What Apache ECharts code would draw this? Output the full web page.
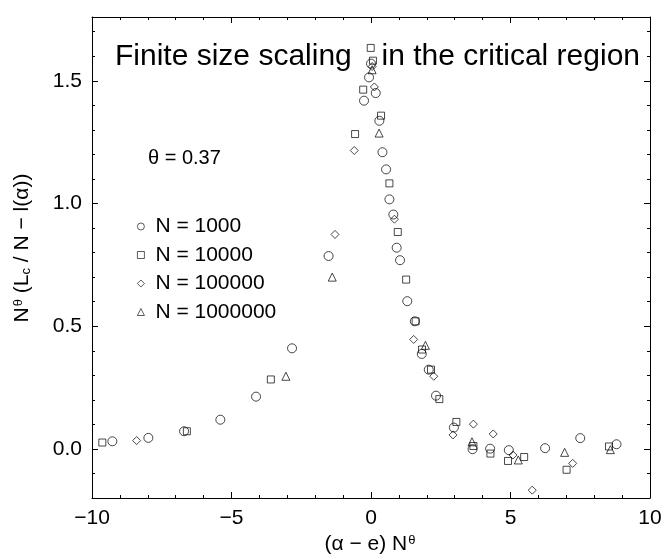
<!DOCTYPE html>
<html>
<head>
<meta charset="utf-8">
<script src="https://cdn.jsdelivr.net/npm/echarts@6/dist/echarts.min.js"></script>
<style>
html, body { margin: 0; padding: 0; background: #fff; }
#chart { width: 662px; height: 560px; }
</style>
</head>
<body>
<div id="chart"></div>
<script>
// data: [x, y] = [(alpha - e) N^theta, N^theta (Lc/N - l(alpha))]
var seriesNames = ['N = 1000', 'N = 10000', 'N = 100000', 'N = 1000000'];

var n1000 = [
  [-9.27, 0.031], [-7.98, 0.045], [-6.70, 0.072], [-5.40, 0.119], [-4.12, 0.213],
  [-2.83, 0.410], [-1.52, 0.786], [-0.25, 1.419], [-0.07, 1.514], [0.00, 1.570],
  [0.17, 1.450], [0.30, 1.337], [0.41, 1.209], [0.54, 1.139], [0.66, 1.017],
  [0.80, 0.955], [0.92, 0.820], [1.04, 0.769], [1.30, 0.602], [1.57, 0.520],
  [1.82, 0.387], [2.07, 0.323], [2.33, 0.217], [2.97, 0.087], [3.64, -0.001],
  [4.27, 0.001], [4.94, -0.005], [6.24, 0.003], [7.50, 0.044], [8.80, 0.019]
];
var n10000 = [
  [-9.63, 0.026], [-6.60, 0.072], [-3.59, 0.283], [-0.57, 1.283], [-0.28, 1.464],
  [-0.01, 1.634], [0.07, 1.582], [0.36, 1.358], [0.66, 1.082], [0.96, 0.884],
  [1.26, 0.690], [1.60, 0.520], [1.83, 0.405], [2.15, 0.323], [2.45, 0.203],
  [3.06, 0.110], [3.67, 0.012], [4.28, -0.019], [4.91, -0.049], [5.49, -0.033],
  [7.01, -0.085], [8.53, 0.010]
];
var n100000 = [
  [-8.40, 0.034], [-1.29, 0.874], [-0.60, 1.216], [0.04, 1.558], [0.12, 1.475],
  [0.84, 0.936], [1.53, 0.446], [2.25, 0.296], [2.94, 0.057], [3.67, 0.101],
  [4.38, 0.061], [5.09, -0.025], [5.78, -0.168], [7.23, -0.059]
];
var n1000000 = [
  [-3.05, 0.296], [-1.39, 0.700], [0.04, 1.545], [0.29, 1.287], [1.95, 0.422],
  [3.62, 0.029], [5.28, -0.045], [6.94, -0.014], [8.58, -0.003]
];

var yMajor = [0, 0.5, 1.0, 1.5];
var yMinor = [-0.1, 0.1, 0.2, 0.3, 0.4, 0.6, 0.7, 0.8, 0.9, 1.1, 1.2, 1.3, 1.4, 1.6, 1.7];

var FONT = '"Liberation Sans", Arial, Helvetica, sans-serif';
var chart = echarts.init(document.getElementById('chart'));

function xAxis(pos, labels) {
  return {
    type: 'value', position: pos, min: -10, max: 10, interval: 5,
    axisLine: { onZero: false, lineStyle: { color: '#000', width: 1 } },
    axisTick: { inside: true, length: 6, lineStyle: { color: '#000' } },
    minorTick: { show: true, splitNumber: 5, length: 3, lineStyle: { color: '#000' } },
    axisLabel: {
      show: labels, fontSize: 21, fontFamily: FONT, color: '#000', margin: 10,
      formatter: function (v) { return String(v).replace('-', '\u2212'); }
    },
    splitLine: { show: false }
  };
}
function yAxis(pos, ticks, len, line, labels) {
  return {
    type: 'value', position: pos, min: -0.2, max: 1.76,
    axisLine: { show: line, onZero: false, lineStyle: { color: '#000', width: 1 } },
    axisTick: { inside: true, length: len, customValues: ticks, lineStyle: { color: '#000' } },
    axisLabel: {
      show: labels, customValues: yMajor, fontSize: 21, fontFamily: FONT, color: '#000', margin: 10,
      formatter: function (v) { return v.toFixed(1); }
    },
    splitLine: { show: false }
  };
}
function scatter(name, data, symbol, size) {
  return {
    name: name, type: 'scatter', data: data, symbol: symbol, symbolSize: size,
    xAxisIndex: 0, yAxisIndex: 0,
    itemStyle: { color: 'transparent', borderColor: '#000', borderWidth: 0.9 },
    emphasis: { disabled: true }
  };
}

var supSub = {
  sup: { fontSize: 13, fontFamily: FONT, verticalAlign: 'top', padding: [0, 0, 0, 1] },
  sub: { fontSize: 13, fontFamily: FONT, verticalAlign: 'bottom', padding: [6, 0, 0, 0] }
};

option = {
  animation: false,
  backgroundColor: '#fff',
  grid: { left: 92, right: 12, top: 17, bottom: 62, outerBoundsMode: 'none' },
  xAxis: [xAxis('bottom', true), xAxis('top', false)],
  yAxis: [
    yAxis('left', yMajor, 6, true, true),
    yAxis('left', yMinor, 3, false, false),
    yAxis('right', yMajor, 6, true, false),
    yAxis('right', yMinor, 3, false, false)
  ],
  legend: {
    orient: 'vertical', left: 137, top: 216, padding: 0,
    itemWidth: 7, itemHeight: 7, itemGap: 7.5,
    itemStyle: { color: 'transparent', borderColor: '#000', borderWidth: 0.8 },
    textStyle: { fontSize: 21, fontFamily: FONT, color: '#000', lineHeight: 21, padding: [0, 0, 0, 6] },
    data: seriesNames
  },
  series: [
    scatter(seriesNames[0], n1000, 'circle', 9),
    scatter(seriesNames[1], n10000, 'rect', 7),
    scatter(seriesNames[2], n100000, 'diamond', 8),
    scatter(seriesNames[3], n1000000, 'triangle', 8)
  ],
  graphic: [
    { type: 'text', x: 115, y: 57, silent: true,
      style: { text: 'Finite size scaling', fontSize: 30, fontFamily: FONT, fill: '#000', verticalAlign: 'middle' } },
    { type: 'text', x: 640, y: 57, silent: true,
      style: { text: 'in the critical region', fontSize: 30, fontFamily: FONT, fill: '#000', align: 'right', verticalAlign: 'middle' } },
    { type: 'text', x: 148, y: 158, silent: true,
      style: { text: '\u03b8 = 0.37', fontSize: 20, fontFamily: FONT, fill: '#000', verticalAlign: 'middle' } },
    { type: 'text', x: 370, y: 544, silent: true,
      style: { text: '(\u03b1 \u2212 e) N{sup|\u03b8}', rich: supSub, fontSize: 21, fontFamily: FONT, fill: '#000',
               align: 'center', verticalAlign: 'middle' } },
    { type: 'text', x: 22, y: 248, rotation: Math.PI / 2, silent: true,
      style: { text: 'N{sup|\u03b8} (L{sub|c} / N \u2212 l(\u03b1))', rich: supSub, fontSize: 21, fontFamily: FONT, fill: '#000',
               align: 'center', verticalAlign: 'middle' } }
  ]
};

chart.setOption(option);
</script>
</body>
</html>
